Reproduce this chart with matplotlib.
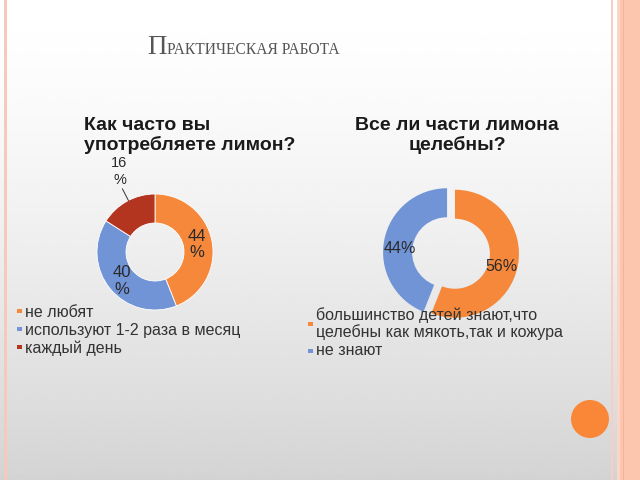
import numpy as np
import matplotlib
matplotlib.use('Agg')
import matplotlib.pyplot as plt
from matplotlib.patches import Rectangle, Circle

# ---------------- data ----------------
slide_title_first = "П"
slide_title_rest = "РАКТИЧЕСКАЯ РАБОТА"

q1_title = "Как часто вы\nупотребляете лимон?"
q1_labels = ["не любят", "используют 1-2 раза в месяц", "каждый день"]
q1_values = [44, 40, 16]

q2_title = "Все ли части лимона\nцелебны?"
q2_labels = ["большинство детей знают,что\nцелебны как мякоть,так и кожура", "не знают"]
q2_values = [56, 44]

# ---------------- style ----------------
ORANGE = '#F5883A'
BLUE = '#7194D7'
RED = '#B3351F'
TXT = '#2a2a2a'
SANS = ['Liberation Sans', 'DejaVu Sans']
SERIF = ['Liberation Serif', 'DejaVu Serif']

W, H = 640, 480
fig = plt.figure(figsize=(6.4, 4.8), dpi=100)
ax = fig.add_axes([0, 0, 1, 1])


def Y(y):
    return H - y


# background gradient
t = np.linspace(0, 1, 256)[:, None]
g = 1.0 - 0.17 * t ** 1.4
ax.imshow(np.repeat(g, 2, axis=1), cmap='gray', vmin=0, vmax=1, aspect='auto',
          extent=[0, W, 0, H], origin='upper', zorder=0, interpolation='bilinear')

# slide borders
ax.add_patch(Rectangle((3.5, 0), 3.5, H, color='#F8C9BA', zorder=1, lw=0))
ax.add_patch(Rectangle((610.5, 0), 2.5, H, color='#F5CFC4', zorder=1, lw=0))
ax.add_patch(Rectangle((616.5, 0), 3.0, H, color='#FBD6C8', zorder=1, lw=0))
ax.add_patch(Rectangle((619.5, 0), 20.5, H, color='#FCC5AE', zorder=1, lw=0))
ax.add_patch(Rectangle((622.5, 0), 1.5, H, color='#F4B39B', zorder=1, lw=0))
ax.add_patch(Circle((590, Y(419)), 19, color='#FA8737', zorder=1, lw=0))

# slide title (small caps)
t1 = ax.text(147, Y(54.5), slide_title_first, fontsize=19.5, family=SERIF,
             color='#555555', ha='left', va='baseline', zorder=5)
fig.canvas.draw()
bb = t1.get_window_extent(renderer=fig.canvas.get_renderer())
ax.text(bb.x1 + 0.5, Y(54.5), slide_title_rest, fontsize=11.2, family=SERIF,
        color='#555555', ha='left', va='baseline', zorder=5)

# ---------------- chart 1 ----------------
c1 = (155, Y(252))
R1 = 58
w1, _, a1 = ax.pie(q1_values, colors=[ORANGE, BLUE, RED], startangle=90,
                   counterclock=False, center=c1, radius=R1,
                   wedgeprops=dict(width=29, edgecolor='white', linewidth=0.6),
                   autopct=lambda p: f'{p:.0f}\n%', pctdistance=0.75,
                   textprops=dict(family=SANS, color=TXT))
for w in w1:
    w.set_zorder(3)
lab_r1 = [42.5, 44, 88]
lab_dang1 = [-1, 1.5, -5]
lab_fs1 = [12, 12, 10.5]
lab_ls1 = [1.1, 1.1, 1.3]
for w, a, r, da, fs, ls in zip(w1, a1, lab_r1, lab_dang1, lab_fs1, lab_ls1):
    th = np.deg2rad((w.theta1 + w.theta2) / 2 + da)
    a.set_position((c1[0] + r * np.cos(th), c1[1] + r * np.sin(th)))
    a.set_fontsize(fs)
    a.set_linespacing(ls)
    a.set_zorder(6)
# leader line for the small slice
thr = np.deg2rad((w1[2].theta1 + w1[2].theta2) / 2 - 1.5)
rr = np.array([R1, 71])
ax.plot(c1[0] + rr * np.cos(thr), c1[1] + rr * np.sin(thr), color='#333333', lw=0.7, zorder=6)

# multi-line text with va='baseline' is anchored at the last line's baseline
ax.text(84, Y(150), q1_title, fontsize=14, fontweight='bold', family=SANS, color='#1a1a1a',
        ha='left', va='baseline', linespacing=1.12, zorder=5)
# legend 1
leg1_base = [317, 335, 353]
for lab, col, yb in zip(q1_labels, [ORANGE, BLUE, RED], leg1_base):
    ax.add_patch(Rectangle((17, Y(yb - 4)), 4.5, 4.5, color=col, lw=0, zorder=5))
    ax.text(25, Y(yb), lab, fontsize=11.5, family=SANS, color='#333333',
            ha='left', va='baseline', zorder=5)

# ---------------- chart 2 ----------------
c2 = (451, Y(253))
R2 = 64
w2, _, a2 = ax.pie(q2_values, colors=[ORANGE, BLUE], startangle=90,
                   counterclock=False, center=c2, radius=R2, explode=[4, 4],
                   wedgeprops=dict(width=29, edgecolor='none'),
                   autopct=lambda p: f'{p:.0f}%', pctdistance=0.78,
                   textprops=dict(family=SANS, color=TXT, fontsize=11.5))
for w in w2:
    w.set_zorder(3)
lab_r2 = [48, 47]
lab_dang2 = [-4, 6]
for w, a, r, da in zip(w2, a2, lab_r2, lab_dang2):
    th = np.deg2rad((w.theta1 + w.theta2) / 2 + da)
    a.set_position((w.center[0] + r * np.cos(th), w.center[1] + r * np.sin(th)))
    a.set_zorder(6)

ax.text(457, Y(150), q2_title, fontsize=14, fontweight='bold', family=SANS, color='#1a1a1a',
        ha='center', va='baseline', linespacing=1.12, multialignment='center', zorder=5)
# legend 2 (baseline of last line of each entry)
leg2_base = [337, 355]
leg2_mark = [324, 351]
for lab, col, yb, ym in zip(q2_labels, [ORANGE, BLUE], leg2_base, leg2_mark):
    ax.add_patch(Rectangle((308, Y(ym + 2)), 4.5, 4.5, color=col, lw=0, zorder=5))
    ax.text(316, Y(yb), lab, fontsize=11.5, family=SANS, color='#333333',
            ha='left', va='baseline', linespacing=1.1, zorder=5)

ax.set_xlim(0, W)
ax.set_ylim(0, H)
ax.set_aspect('auto')
ax.axis('off')
fig.savefig('out.png', dpi=100)
